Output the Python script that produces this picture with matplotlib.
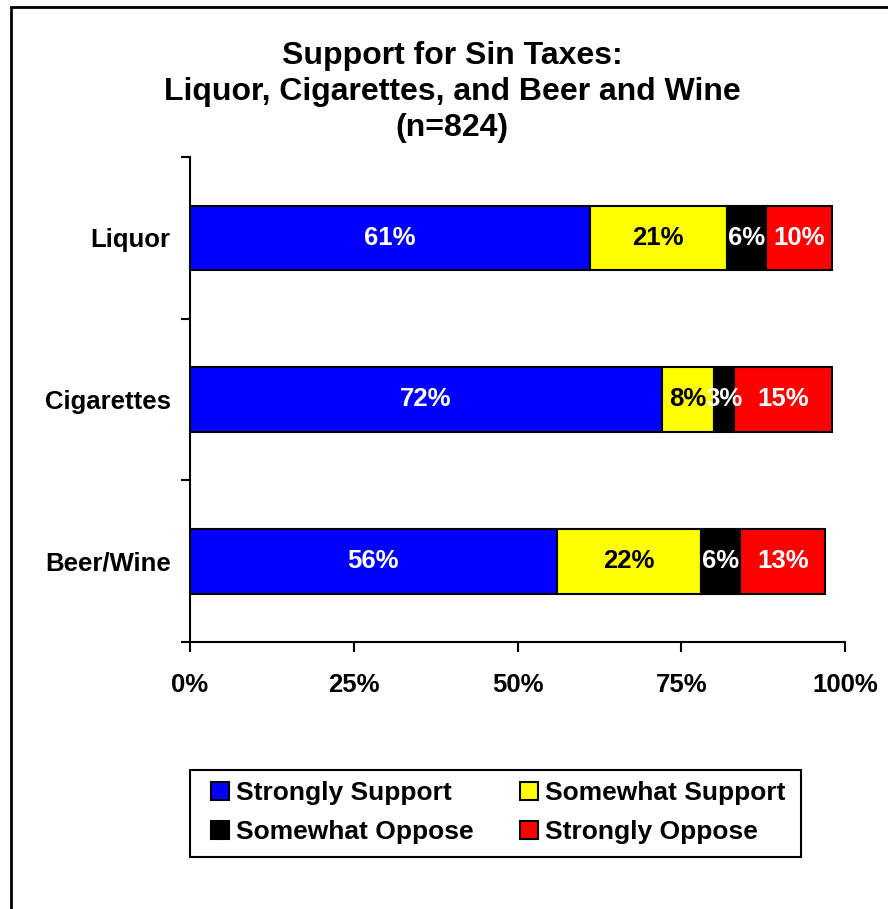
import matplotlib
matplotlib.use("Agg")
import matplotlib.pyplot as plt
from matplotlib.patches import Rectangle
import numpy as np

plt.rcParams['font.family'] = ['Liberation Sans', 'DejaVu Sans']
plt.rcParams['font.weight'] = 'bold'

categories = ["Liquor", "Cigarettes", "Beer/Wine"]
series_names = ["Strongly Support", "Somewhat Support", "Somewhat Oppose", "Strongly Oppose"]
strongly_support = [61, 72, 56]
somewhat_support = [21, 8, 22]
somewhat_oppose = [6, 3, 6]
strongly_oppose = [10, 15, 13]
x_ticks = [0, 25, 50, 75, 100]
x_tick_labels = ["0%", "25%", "50%", "75%", "100%"]
title = "Support for Sin Taxes:\nLiquor, Cigarettes, and Beer and Wine\n(n=824)"

colors = ["#0000FF", "#FFFF00", "#000000", "#FF0000"]
text_colors = ["white", "black", "white", "white"]

W, H = 888, 909
fig = plt.figure(figsize=(W / 100, H / 100), dpi=100)
ax = fig.add_axes([190 / W, 1 - 642 / H, (845 - 190) / W, (642 - 157) / H])

FS = 18.5
series = [strongly_support, somewhat_support, somewhat_oppose, strongly_oppose]
y = np.arange(len(categories))
left = np.zeros(len(categories))
handles = []
for vals, c, tc, name in zip(series, colors, text_colors, series_names):
    vals = np.array(vals, dtype=float)
    bars = ax.barh(y, vals, left=left, height=0.4, color=c, edgecolor="black",
                   linewidth=1.5, label=name)
    handles.append(bars)
    for yi, l, v in zip(y, left, vals):
        ax.text(l + v / 2, yi, f"{int(v)}%", ha="center", va="center",
                color=tc, fontsize=FS, fontweight="bold")
    left = left + vals

ax.set_xlim(0, 100)
ax.set_ylim(2.5, -0.5)
ax.set_xticks(x_ticks)
ax.set_xticklabels(x_tick_labels, fontsize=FS, fontweight="bold")
ax.set_yticks(y)
ax.set_yticklabels(categories, fontsize=FS, fontweight="bold")
ax.set_yticks([-0.5, 0.5, 1.5, 2.5], minor=True)
ax.tick_params(axis="y", which="major", length=0, pad=14)
ax.tick_params(axis="y", which="minor", length=6.5, width=1.5, direction="out")
ax.tick_params(axis="x", which="major", length=7, width=1.5, direction="out", pad=15)
for s in ["top", "right"]:
    ax.spines[s].set_visible(False)
for s in ["left", "bottom"]:
    ax.spines[s].set_linewidth(1.5)

fig.text(452 / W, 1 - 41 / H, title, ha="center", va="top", fontsize=23,
         fontweight="bold", linespacing=1.27)

# legend frame
fig.patches.append(Rectangle((190 / W, 1 - 857 / H), (801 - 190) / W, (857 - 770) / H,
                             transform=fig.transFigure, fill=False, edgecolor="black",
                             linewidth=1.5, zorder=5))
# row-major order: matplotlib fills legend columns first
order = [0, 2, 1, 3]
LFS = 19
leg = fig.legend(handles=[handles[i] for i in order],
                 labels=[series_names[i] for i in order], ncol=2, loc="upper left",
                 bbox_to_anchor=(211 / W, 1 - 781 / H), borderaxespad=0, borderpad=0,
                 frameon=False, handlelength=0.7, handleheight=0.7,
                 handletextpad=0.25, columnspacing=1.75, labelspacing=0.58,
                 prop={"weight": "bold", "size": LFS})

# outer border
fig.patches.append(Rectangle((11 / W, -0.1), 1.2, 1.1 - 7 / H, transform=fig.transFigure,
                             fill=False, edgecolor="black", linewidth=2, zorder=5))

fig.savefig("out.png", dpi=100)
